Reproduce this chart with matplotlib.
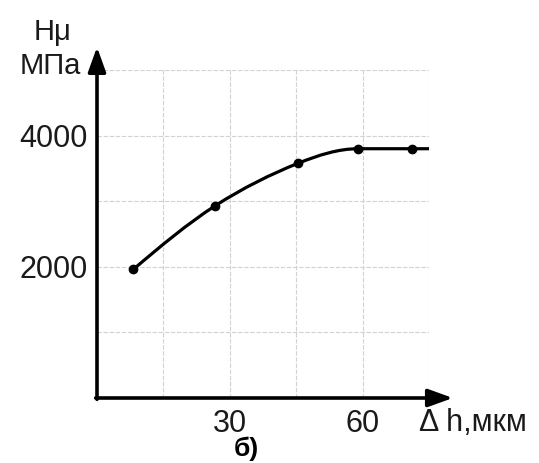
import matplotlib
matplotlib.use("Agg")
import matplotlib.pyplot as plt
from matplotlib.path import Path
from matplotlib.patches import PathPatch

# values
dh = [8.2, 26.7, 45.5, 59.0, 71.2]          # Δh, мкм
hmu = [1960, 2930, 3580, 3800, 3800]        # Hμ, МПа
line_end = (75.6, 3800)                     # curve runs a bit past last point

x_ticks = [15, 30, 45, 60, 75]
x_labels = ["", "30", "", "60", ""]
y_ticks = [1000, 2000, 3000, 4000, 5000]
y_labels = ["", "2000", "", "4000", ""]

plt.rcParams['font.family'] = ['Liberation Sans', 'DejaVu Sans']

fig = plt.figure(figsize=(5.39, 4.63), dpi=100)
ax = fig.add_axes([97/539, 65/463, 332/539, 328/463])
ax.set_xlim(0, 75)
ax.set_ylim(0, 5000)

for s in ax.spines.values():
    s.set_visible(False)

ax.set_xticks(x_ticks)
ax.set_xticklabels(x_labels)
ax.set_yticks(y_ticks)
ax.set_yticklabels(y_labels)
ax.tick_params(length=0, labelsize=22, colors='#1a1a1a')
ax.tick_params(axis='x', pad=8)
ax.tick_params(axis='y', pad=7)
ax.grid(True, color='#d2d2d2', lw=0.8, ls=(0, (4, 1.5)))

# smooth curve through the points (cubic bezier, flattened where the data is flat)
px = dh + [line_end[0]]
py = hmu + [line_end[1]]
n = len(px)
slopes = []
for i in range(n):
    if i == 0:
        m = (py[1] - py[0]) / (px[1] - px[0]) * 1.1
    elif i == n - 1:
        m = (py[-1] - py[-2]) / (px[-1] - px[-2])
    else:
        left = (py[i] - py[i-1]) / (px[i] - px[i-1])
        right = (py[i+1] - py[i]) / (px[i+1] - px[i])
        m = 0 if left * right <= 0 else (py[i+1] - py[i-1]) / (px[i+1] - px[i-1])
    slopes.append(m)

verts = [(px[0], py[0])]
codes = [Path.MOVETO]
for i in range(n - 1):
    d = (px[i+1] - px[i]) / 3
    verts += [(px[i] + d, py[i] + slopes[i] * d),
              (px[i+1] - d, py[i+1] - slopes[i+1] * d),
              (px[i+1], py[i+1])]
    codes += [Path.CURVE4] * 3
ax.add_patch(PathPatch(Path(verts, codes), fill=False, lw=2.3, color='black',
                       capstyle='butt', zorder=3))
ax.plot(dh, hmu, 'o', color='black', ms=6, zorder=4)

# axes with arrows
arrow = dict(arrowstyle='-|>,head_length=0.75,head_width=0.27', lw=2.6,
             color='black', mutation_scale=20, shrinkA=0, shrinkB=0)
ax.annotate('', xy=(0, 1.07), xytext=(0, -0.004), xycoords='axes fraction',
            arrowprops=arrow, annotation_clip=False)
ax.annotate('', xy=(1.072, 0), xytext=(-0.004, 0), xycoords='axes fraction',
            arrowprops=arrow, annotation_clip=False)

fig.text(53/539, 1 - 32/463, 'Hμ', fontsize=21, ha='center', va='center', color='#1a1a1a')
fig.text(50/539, 1 - 66/463, 'МПа', fontsize=21, ha='center', va='center', color='#1a1a1a')
fig.text(419/539, 1 - 423/463, 'Δ h,мкм', fontsize=22, ha='left', va='center', color='#1a1a1a')
fig.text(246/539, 1 - 449/463, 'б)', fontsize=19, fontweight='bold', ha='center', va='center')

fig.savefig('out.png', dpi=100)
